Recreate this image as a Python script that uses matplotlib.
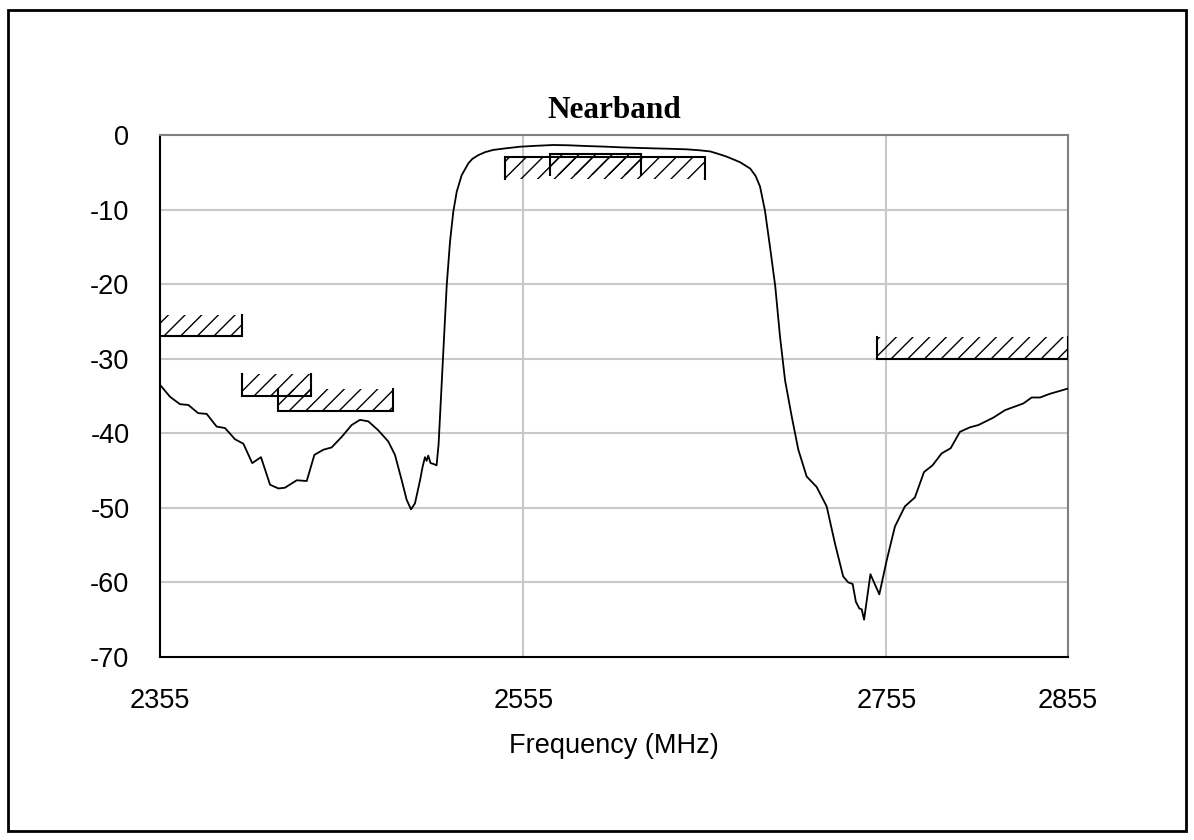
import matplotlib.pyplot as plt
from matplotlib.patches import Rectangle

# measured filter response (MHz, dB)
freq_mhz = [
    2355, 2360.5, 2366, 2370.6, 2376, 2380.7, 2386.2, 2390.8, 2396.3, 2400.9,
    2405.8, 2410.6, 2415.6, 2420.2, 2423.8, 2430.3, 2435.8, 2440, 2445, 2449.5,
    2455, 2460.5, 2465.1, 2469.7, 2475.2, 2480.7, 2484.4, 2488.1, 2490.8, 2493.2,
    2495.4, 2498.2, 2499.6, 2500.9, 2501.8, 2502.7, 2504, 2505.5, 2507.3, 2508.4,
    2509.6, 2511, 2512.9, 2514.7, 2516.5, 2518.4, 2521.1, 2524.8, 2527, 2530.3,
    2534, 2538.5, 2545, 2553.2, 2562, 2571.6, 2580, 2589.9, 2600, 2608.3,
    2617, 2626.6, 2636, 2645, 2652, 2657.9, 2662, 2667, 2671, 2674.4,
    2680, 2683, 2685.4, 2688.1, 2690.9, 2693.8, 2696.4, 2699.2, 2702.9, 2706.5,
    2711.1, 2716.6, 2722.1, 2726.7, 2731.2, 2734, 2736.4, 2738.2, 2740.1, 2741.4,
    2742.7, 2746.2, 2751.1, 2755.1, 2759.7, 2765.2, 2770.7, 2775.7, 2780.4, 2785.4,
    2790.4, 2795.5, 2801, 2805.6, 2813.9, 2820.3, 2830.4, 2835, 2839.6, 2845.1,
    2855,
]
response_db = [
    -33.5, -35.1, -36.1, -36.2, -37.3, -37.4, -39.1, -39.3, -40.8, -41.4,
    -44.0, -43.2, -46.9, -47.4, -47.3, -46.3, -46.4, -42.9, -42.2, -41.9,
    -40.5, -38.9, -38.2, -38.4, -39.6, -41.1, -42.9, -46.3, -48.9, -50.2,
    -49.4, -46.3, -44.5, -43.2, -43.7, -43.0, -44.0, -44.1, -44.3, -41.5,
    -35.8, -29.1, -20.1, -14.3, -10.3, -7.6, -5.4, -3.8, -3.2, -2.7,
    -2.3, -2.0, -1.8, -1.57, -1.45, -1.34, -1.38, -1.48, -1.56, -1.65,
    -1.72, -1.79, -1.85, -1.92, -2.05, -2.2, -2.5, -2.9, -3.3, -3.65,
    -4.5, -5.5, -6.9, -10.1, -15.0, -20.3, -27.0, -32.9, -37.8, -42.2,
    -45.8, -47.2, -49.8, -54.8, -59.2, -60.0, -60.2, -62.6, -63.5, -63.6,
    -65.0, -58.9, -61.6, -57.1, -52.5, -49.8, -48.6, -45.2, -44.3, -42.7,
    -42.0, -39.8, -39.2, -38.9, -37.9, -36.9, -36.0, -35.2, -35.2, -34.7,
    -34.0,
]

# spec mask segments: start, stop, limit (dB), hatched side (+1 above, -1 below)
mask_start = [2355, 2400, 2420, 2750, 2545, 2570]
mask_stop = [2400, 2438, 2483.5, 2855, 2655, 2620]
mask_level = [-27, -35, -37, -30, -3, -2.5]
mask_side = [1, 1, 1, 1, -1, -1]

x_ticks = [2355, 2555, 2755, 2855]
x_grid = [2555, 2755]
y_ticks = [0, -10, -20, -30, -40, -50, -60, -70]

HATCH_DEPTH = 2.9

plt.rcParams["hatch.linewidth"] = 1.0
plt.rcParams["axes.unicode_minus"] = False
plt.rcParams["font.family"] = ["Liberation Sans", "DejaVu Sans"]


def draw_mask(ax, x0, x1, level, side):
    edge = level + side * HATCH_DEPTH
    ax.fill_between([x0, x1], level, edge, facecolor="none",
                    edgecolor="black", linewidth=0, hatch="//", zorder=3)
    ax.plot([x0, x0, x1, x1], [edge, level, level, edge],
            color="black", lw=1.5, zorder=4, solid_joinstyle="miter")


fig = plt.figure(figsize=(11.94, 8.4), dpi=100)
fig.patches.append(Rectangle((8 / 1194, 9 / 840), 1178 / 1194, 821 / 840,
                             transform=fig.transFigure, fill=False,
                             edgecolor="black", linewidth=2))

ax = fig.add_axes([160 / 1194, 1 - 657 / 840, 908 / 1194, 522 / 840])
ax.set_xlim(2355, 2855)
ax.set_ylim(-70, 0)

for y in y_ticks[1:-1]:
    ax.axhline(y, color="#c8c8c8", lw=1.5, zorder=1)
for x in x_grid:
    ax.axvline(x, color="#c8c8c8", lw=1.5, zorder=1)

ax.plot(freq_mhz, response_db, color="black", lw=1.3, zorder=5)

for x0, x1, lvl, sd in zip(mask_start, mask_stop, mask_level, mask_side):
    draw_mask(ax, x0, x1, lvl, sd)

ax.set_xticks(x_ticks)
ax.set_yticks(y_ticks)
ax.tick_params(length=0, labelsize=19.5, pad=22)
ax.spines["left"].set_color("black")
ax.spines["bottom"].set_color("black")
ax.spines["top"].set_color("#808080")
ax.spines["right"].set_color("#808080")
for s in ax.spines.values():
    s.set_linewidth(1.5)

fig.text(614 / 1194, 1 - 110 / 840, "Nearband", ha="center", va="center",
         fontsize=22.5, fontweight="bold", family=["Liberation Serif"])
fig.text(614 / 1194, 1 - 746 / 840, "Frequency (MHz)", ha="center",
         va="center", fontsize=19.5)

fig.savefig("out.png", dpi=100)
